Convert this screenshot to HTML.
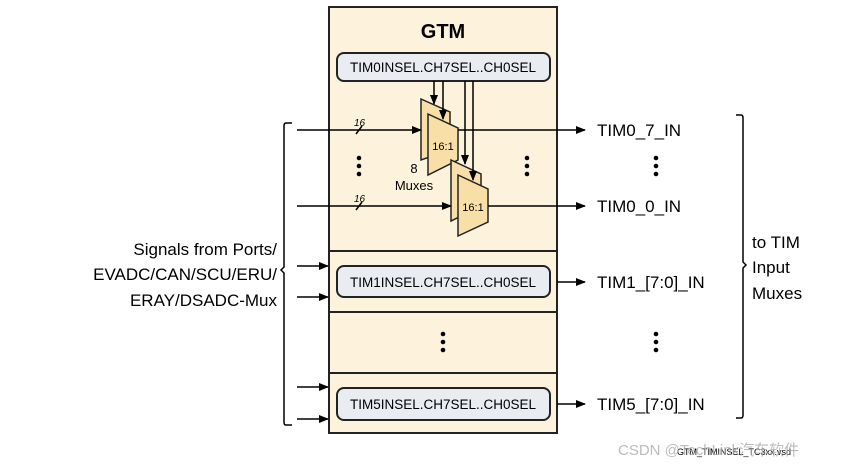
<!DOCTYPE html>
<html><head><meta charset="utf-8"><style>
html,body{margin:0;padding:0;background:#fff;}
svg{display:block;font-family:"Liberation Sans",sans-serif;}
</style></head><body>
<svg width="863" height="467" viewBox="0 0 863 467">
<defs><marker id="a" markerWidth="10" markerHeight="8" refX="9" refY="4" orient="auto" markerUnits="userSpaceOnUse"><path d="M0,0 L10,4 L0,8 z" fill="#000"/></marker></defs>
<rect x="329" y="7" width="228" height="426" fill="#fdf3dc" stroke="#222" stroke-width="2"/>
<line x1="329" y1="251" x2="557" y2="251" stroke="#222" stroke-width="2"/>
<line x1="329" y1="312" x2="557" y2="312" stroke="#222" stroke-width="2"/>
<line x1="329" y1="373" x2="557" y2="373" stroke="#222" stroke-width="2"/>
<text x="443" y="38" text-anchor="middle" font-size="20" font-weight="bold">GTM</text>
<g font-size="13.5" text-anchor="middle">
<rect x="337" y="53" width="213" height="28" rx="7" fill="#e9edf2" stroke="#222" stroke-width="2"/>
<text x="443" y="72">TIM0INSEL.CH7SEL..CH0SEL</text>
<rect x="337" y="266" width="213" height="31" rx="7" fill="#e9edf2" stroke="#222" stroke-width="2"/>
<text x="443" y="287">TIM1INSEL.CH7SEL..CH0SEL</text>
<rect x="337" y="388" width="213" height="32" rx="7" fill="#e9edf2" stroke="#222" stroke-width="2"/>
<text x="443" y="409">TIM5INSEL.CH7SEL..CH0SEL</text>
</g>
<g stroke="#222" stroke-width="1.5" fill="#f8dfa8">
<polygon points="421,99 450,112 450,150 421,160"/>
<polygon points="428,114 458,128 458,160 428,175"/>
<polygon points="451,160 481,174 481,206 451,221"/>
<polygon points="458,175 488,189 488,222 458,236"/>
</g>
<g stroke="#000" stroke-width="1.5" fill="none">
<line x1="297" y1="130" x2="421" y2="130" marker-end="url(#a)"/>
<line x1="297" y1="206" x2="451" y2="206" marker-end="url(#a)"/>
<line x1="458" y1="130" x2="585" y2="130" marker-end="url(#a)"/>
<line x1="488" y1="206" x2="585" y2="206" marker-end="url(#a)"/>
<line x1="557" y1="282" x2="585" y2="282" marker-end="url(#a)"/>
<line x1="557" y1="404" x2="585" y2="404" marker-end="url(#a)"/>
<line x1="297" y1="266" x2="328" y2="266" marker-end="url(#a)"/>
<line x1="297" y1="297" x2="328" y2="297" marker-end="url(#a)"/>
<line x1="297" y1="387" x2="328" y2="387" marker-end="url(#a)"/>
<line x1="297" y1="419" x2="328" y2="419" marker-end="url(#a)"/>
<line x1="434" y1="81" x2="434" y2="104" marker-end="url(#a)"/>
<line x1="443" y1="81" x2="443" y2="119" marker-end="url(#a)"/>
<line x1="465" y1="81" x2="465" y2="164" marker-end="url(#a)"/>
<line x1="473" y1="81" x2="473" y2="180" marker-end="url(#a)"/>
<line x1="356" y1="134" x2="362" y2="126"/>
<line x1="356" y1="210" x2="362" y2="202"/>
<path d="M292,123 H286 Q284,123 284,126 V267 L281,270 L284,273 V422 Q284,425 286,425 H292"/>
<path d="M736,115 H741 Q743,115 743,118 V262 L746,265 L743,268 V415 Q743,418 741,418 H736"/>
</g>
<g font-size="11" text-anchor="middle">
<text x="443" y="150">16:1</text>
<text x="473" y="211">16:1</text>
</g>
<g font-size="10" font-style="italic"><text x="354" y="126">16</text><text x="354" y="202">16</text></g>
<text x="414" y="173" font-size="13" text-anchor="middle">8</text>
<text x="414" y="190" font-size="13" text-anchor="middle">Muxes</text>
<g fill="#000">
<circle cx="359" cy="158" r="2.3"/><circle cx="359" cy="166" r="2.3"/><circle cx="359" cy="174" r="2.3"/>
<circle cx="527" cy="158" r="2.3"/><circle cx="527" cy="166" r="2.3"/><circle cx="527" cy="174" r="2.3"/>
<circle cx="443" cy="334" r="2.3"/><circle cx="443" cy="342" r="2.3"/><circle cx="443" cy="350" r="2.3"/>
<circle cx="656" cy="158" r="2.3"/><circle cx="656" cy="166" r="2.3"/><circle cx="656" cy="174" r="2.3"/>
<circle cx="656" cy="334" r="2.3"/><circle cx="656" cy="342" r="2.3"/><circle cx="656" cy="350" r="2.3"/>
</g>
<g font-size="17">
<text x="597" y="136">TIM0_7_IN</text>
<text x="597" y="212">TIM0_0_IN</text>
<text x="597" y="288">TIM1_[7:0]_IN</text>
<text x="597" y="410">TIM5_[7:0]_IN</text>
<text x="752" y="248">to TIM</text>
<text x="752" y="273">Input</text>
<text x="752" y="299">Muxes</text>
</g>
<g font-size="17" text-anchor="end">
<text x="277" y="255">Signals from Ports/</text>
<text x="277" y="280">EVADC/CAN/SCU/ERU/</text>
<text x="277" y="306">ERAY/DSADC-Mux</text>
</g>
<text x="677" y="455" font-size="9">GTM_TIMINSEL_TC3xx.vsd</text>
<text x="618" y="455" font-size="15" fill="#aaa" fill-opacity="0.8">CSDN @TechLink汽车软件</text>
</svg>
</body></html>
